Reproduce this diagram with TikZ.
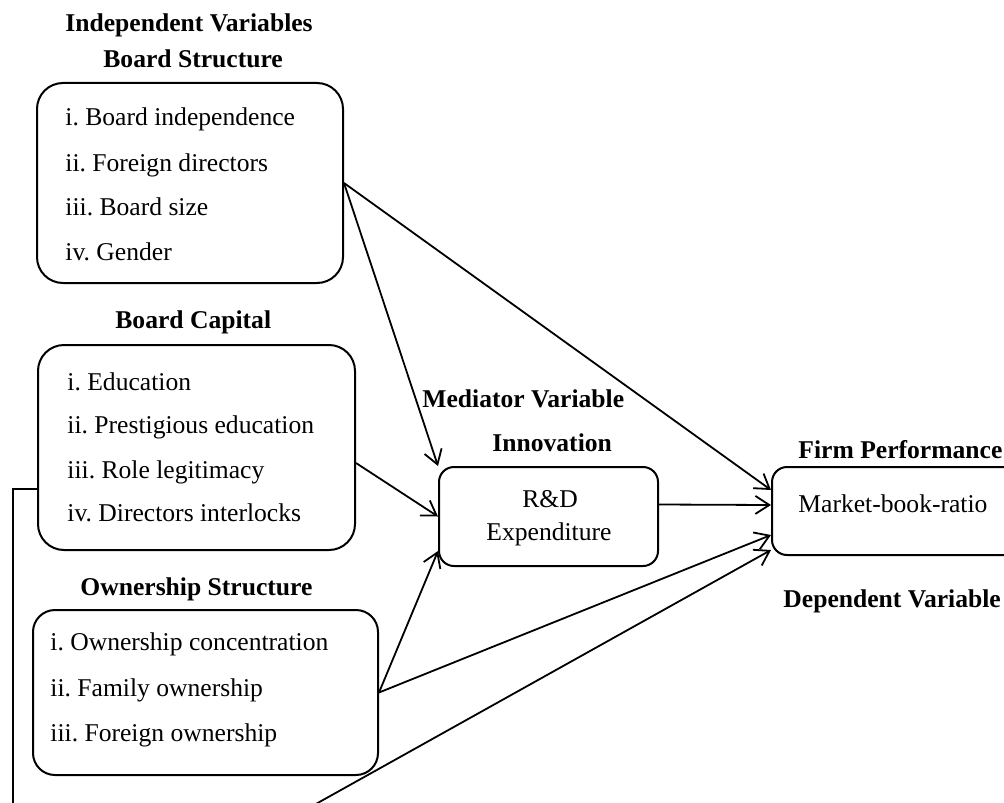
\documentclass[tikz,border=0pt]{standalone}
\usepackage{fontspec}
\setmainfont{Liberation Serif}
\usetikzlibrary{calc,arrows.meta}

\tikzset{
	varbox/.style={draw, line width=1pt, rounded corners=13pt, inner sep=0pt},
	smallbox/.style={draw, line width=1pt, rounded corners=7.5pt, inner sep=0pt},
	item/.style={anchor=base west, inner sep=0pt},
	heading/.style={anchor=base west, inner sep=0pt, font=\fontsize{12.8}{15}\selectfont\bfseries},
	arr/.style={line width=0.9pt, -{Straight Barb[length=7pt,width=9pt]}},
}

\begin{document}
\frenchspacing
\begin{tikzpicture}[x=0.5pt, y=-0.5pt, every node/.style={font=\fontsize{12.8}{15}\selectfont}]
		%%%%% START %%%%%
		
		\useasboundingbox (0, 0) rectangle (1004, 802);
		\clip (0, 0) rectangle (1004, 802);
		
		% independent variables
		\node[heading] (indep) at (65, 32) {Independent Variables};
		\node[heading] (bstructT) at (103, 68) {Board Structure};
		\node[varbox, minimum width=153pt, minimum height=100pt] (bstruct) at (190, 183) {};
		\node[item] (bs1) at (65, 126) {i. Board independence};
		\node[item] (bs2) at (65, 171) {ii. Foreign directors};
		\node[item] (bs3) at (65, 215) {iii. Board size};
		\node[item] (bs4) at (65, 260) {iv. Gender};
		
		\node[heading] (bcapT) at (115, 328) {Board Capital};
		\node[varbox, minimum width=158.5pt, minimum height=102.5pt] (bcap) at (196.5, 447.5) {};
		\node[item] (bc1) at (67, 390) {i. Education};
		\node[item] (bc2) at (67, 433) {ii. Prestigious education};
		\node[item] (bc3) at (67, 478) {iii. Role legitimacy};
		\node[item] (bc4) at (67, 521) {iv. Directors interlocks};
		
		\node[heading] (ownT) at (80, 595) {Ownership Structure};
		\node[varbox, rounded corners=11pt, minimum width=172.5pt, minimum height=82.5pt] (own) at (205.5, 692.5) {};
		\node[item] (ow1) at (50, 650) {i. Ownership concentration};
		\node[item] (ow2) at (50, 696) {ii. Family ownership};
		\node[item] (ow3) at (50, 741) {iii. Foreign ownership};
		
		% mediator
		\node[heading] (medT) at (422, 407) {Mediator Variable};
		\node[heading] (innoT) at (492, 451) {Innovation};
		\node[smallbox, minimum width=109.5pt, minimum height=49.5pt] (rd) at (548.5, 516.5) {};
		\node[item] (rd1) at (522, 507) {R\&D};
		\node[item] (rd2) at (486, 540) {Expenditure};
		
		% dependent
		\node[heading] (firmT) at (798, 458) {Firm Performance};
		\node[smallbox, minimum width=131pt, minimum height=44pt] (firm) at (903, 511) {};
		\node[item] (mbr) at (798, 512) {Market-book-ratio};
		\node[heading] (depT) at (783, 607) {Dependent Variable};
		
		% paths
		\draw[arr] (bstruct.east) -- (rd.north west);
		\draw[arr] (bstruct.east) -- ($(firm.west)+(0,-21)$);
		\draw[arr] ($(bcap.east)+(0,15.5)$) -- (rd.west);
		\draw[arr] (own.east) -- ($(rd.south west)+(0,-16)$);
		\draw[arr] (own.east) -- ($(firm.west)+(0,24)$);
		\draw[arr] ($(rd.east)+(0,-12)$) -- ($(firm.west)+(0,-6)$);
		
		\coordinate (loopA) at (13, 489);
		\coordinate (loopB) at (13, 973);
		\draw[arr] (bcap.west |- loopA) -- (loopA) -- (loopB) -- ($(firm.west)+(0,39)$);
		
		%%%%% END %%%%%
	\end{tikzpicture}
\end{document}
